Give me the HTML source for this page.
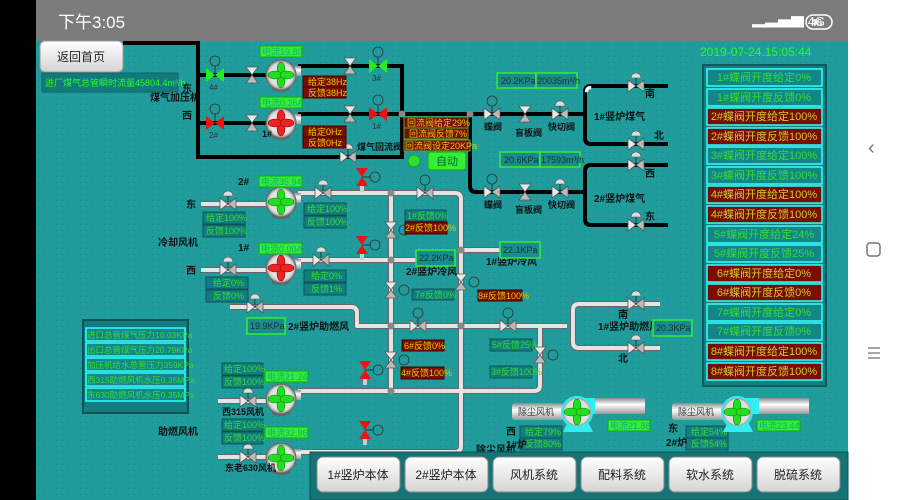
<!DOCTYPE html>
<html><head><meta charset="utf-8"><style>
html,body{margin:0;padding:0;width:900px;height:500px;overflow:hidden;background:#000}
svg{display:block}
text{font-family:"Liberation Sans","Noto Sans CJK SC",sans-serif}
</style></head><body>
<svg width="900" height="500" viewBox="0 0 900 500" xmlns="http://www.w3.org/2000/svg">
<defs>
<pattern id="dots" width="6" height="6" patternUnits="userSpaceOnUse"><rect width="6" height="6" fill="#209c9d"/><rect x="2" y="2" width="1" height="1" fill="#17888a"/></pattern>
<linearGradient id="btn" x1="0" y1="0" x2="0" y2="1"><stop offset="0" stop-color="#fff"/><stop offset="1" stop-color="#d4d4d4"/></linearGradient>
<linearGradient id="pipeW" x1="0" y1="0" x2="0" y2="1"><stop offset="0" stop-color="#888"/><stop offset=".4" stop-color="#fff"/><stop offset="1" stop-color="#999"/></linearGradient>
<radialGradient id="fanB"><stop offset="0" stop-color="#fff"/><stop offset=".8" stop-color="#ddd"/><stop offset="1" stop-color="#777"/></radialGradient>
<g id="vh"><polygon points="-8,-6 0,0 -8,6" fill="#e8e8e8" stroke="#555" stroke-width=".8"/><polygon points="8,-6 0,0 8,6" fill="#bbb" stroke="#555" stroke-width=".8"/></g>
<g id="vv"><polygon points="-6,-8 0,0 6,-8" fill="#e8e8e8" stroke="#555" stroke-width=".8"/><polygon points="-6,8 0,0 6,8" fill="#bbb" stroke="#555" stroke-width=".8"/></g>
<g id="vhm"><use href="#vh"/><line x1="0" y1="0" x2="0" y2="-8" stroke="#333"/><path d="M-5,-8 A5,5 0 0 1 5,-8 Z" fill="#ddd" stroke="#555" stroke-width=".6"/></g>
<g id="vhM"><use href="#vh"/><line x1="0" y1="0" x2="0" y2="-8" stroke="#333"/><circle cx="0" cy="-13" r="5" fill="none" stroke="#333" stroke-width=".8"/></g>
<g id="bg"><polygon points="-9,-7 0,0 -9,7" fill="#2e2"/><polygon points="9,-7 0,0 9,7" fill="#2e2"/><line x1="0" y1="0" x2="0" y2="-9" stroke="#333"/><circle cx="0" cy="-14" r="5" fill="none" stroke="#333" stroke-width=".8"/></g>
<g id="br"><polygon points="-9,-7 0,0 -9,7" fill="#e11"/><polygon points="9,-7 0,0 9,7" fill="#e11"/><line x1="0" y1="0" x2="0" y2="-9" stroke="#333"/><circle cx="0" cy="-14" r="5" fill="none" stroke="#333" stroke-width=".8"/></g>
<g id="rv"><polygon points="-6,-9 0,0 6,-9" fill="#e11"/><polygon points="-6,9 0,0 6,9" fill="#e11"/><line x1="0" y1="0" x2="9" y2="0" stroke="#333"/><circle cx="13" cy="0" r="5" fill="none" stroke="#333" stroke-width=".8"/><rect x="-2" y="9" width="4" height="6" fill="#ccc"/></g>
<g id="fanG"><rect x="0" y="-9" width="20" height="10" fill="url(#pipeW)"/><ellipse cx="0" cy="14" rx="9" ry="3" fill="#666"/><circle r="15" fill="url(#fanB)" stroke="#666"/><g fill="#2d2" stroke="#070" stroke-width=".5"><ellipse cx="0" cy="-6" rx="4" ry="7"/><ellipse cx="0" cy="6" rx="4" ry="7"/><ellipse cx="-6" cy="0" rx="7" ry="4"/><ellipse cx="6" cy="0" rx="7" ry="4"/></g></g>
<g id="fanR"><rect x="0" y="-9" width="20" height="10" fill="url(#pipeW)"/><ellipse cx="0" cy="14" rx="9" ry="3" fill="#666"/><circle r="15" fill="url(#fanB)" stroke="#666"/><g fill="#e22" stroke="#700" stroke-width=".5"><ellipse cx="0" cy="-6" rx="4" ry="7"/><ellipse cx="0" cy="6" rx="4" ry="7"/><ellipse cx="-6" cy="0" rx="7" ry="4"/><ellipse cx="6" cy="0" rx="7" ry="4"/></g></g>
<g id="node"><circle r="3.5" fill="#888"/></g>
</defs>

<!-- frame -->
<rect width="900" height="500" fill="#000"/>
<rect x="36" y="0" width="812" height="41" fill="#7b7b7b"/>
<text x="58" y="28" font-size="17" fill="#fff">下午3:05</text>
<text x="752" y="26" font-size="13" fill="#fff">▂▃▅▇ 4G</text>
<rect x="806" y="15" width="26" height="14" rx="7" fill="none" stroke="#fff" stroke-width="1.5"/>
<text x="811" y="26" font-size="10" fill="#fff" font-weight="bold">46</text>
<rect x="848" y="0" width="52" height="500" fill="#fff"/>
<text x="868" y="154" font-size="20" fill="#777">‹</text>
<rect x="867" y="243" width="13" height="13" rx="3" fill="none" stroke="#777" stroke-width="1.5"/>
<g stroke="#777" stroke-width="1.3"><line x1="868" y1="348" x2="880" y2="348"/><line x1="868" y1="353" x2="880" y2="353"/><line x1="868" y1="358" x2="880" y2="358"/></g>
<rect x="36" y="41" width="812" height="459" fill="url(#dots)"/>

<!-- top button and flow -->
<rect x="40" y="41" width="83" height="31" rx="5" fill="url(#btn)" stroke="#999"/>
<text x="81" y="61" font-size="12" fill="#222" text-anchor="middle">返回首页</text>
<rect x="42" y="73" width="136" height="19" fill="#127a7c" stroke="#0d6466"/>
<text x="45" y="86" font-size="9" fill="#2f2">进厂煤气总管瞬时流量45804.4m³/h</text>

<!-- black gas pipes -->
<g stroke="#000" stroke-width="4" fill="none">
<path d="M123,43 H198 V157 H402 V64"/>
<path d="M198,75 H270"/><path d="M198,123 H270"/>
<path d="M298,66 H402"/><path d="M298,114 H402"/>
<path d="M402,114 H470 V186 Q470,192 476,192 H585"/>
<path d="M470,114 H585"/>
<path d="M668,86 H591 Q585,86 585,92 V138 Q585,144 591,144 H668"/>
<path d="M668,165 H591 Q585,165 585,171 V219 Q585,225 591,225 H668"/>
</g>
<g fill="#fff" stroke="#ccc" stroke-width=".5"><path d="M585,92 Q585,86 591,86 L591,89 Q588,89 588,92Z"/></g>
<use href="#node" x="402" y="114"/>
<use href="#node" x="470" y="114"/>

<use href="#bg" x="215" y="75"/><text x="209" y="90" font-size="8" fill="#333">4#</text>
<use href="#vv" x="252" y="75" transform="rotate(0)"/>
<use href="#fanG" x="281" y="75"/><text x="262" y="103" font-size="9" fill="#111" font-weight="bold">2#</text>
<use href="#vv" x="350" y="66"/>
<use href="#bg" x="378" y="66"/><text x="372" y="81" font-size="8" fill="#333">3#</text>
<use href="#br" x="215" y="123"/><text x="209" y="138" font-size="8" fill="#333">2#</text>
<use href="#vv" x="252" y="123"/>
<use href="#fanR" x="281" y="123"/><text x="262" y="137" font-size="9" fill="#111" font-weight="bold">1#</text>
<use href="#vv" x="350" y="114"/>
<use href="#br" x="378" y="114"/><text x="372" y="129" font-size="8" fill="#333">1#</text>
<use href="#vhm" x="348" y="157"/>

<text x="182" y="92" font-size="10" fill="#111" font-weight="bold">东</text>
<text x="150" y="101" font-size="10" fill="#111" font-weight="bold">煤气加压机</text>
<text x="182" y="119" font-size="10" fill="#111" font-weight="bold">西</text>
<text x="357" y="150" font-size="9" fill="#111" font-weight="bold">煤气回流阀</text>

<g font-size="9">
<rect x="260" y="46" width="42" height="11" fill="#3e3" stroke="#1a1"/><text x="262" y="55" fill="#5c5" fill-opacity=".9"><tspan fill="#1a8">电流19.89A</tspan></text>
<rect x="260" y="97" width="42" height="11" fill="#3e3" stroke="#1a1"/><text x="262" y="106" fill="#1a8">电流0.26A</text>
<rect x="303" y="76" width="43" height="11" fill="#7a0c00" stroke="#400"/><text x="308" y="85" fill="#dc0">给定38Hz</text>
<rect x="303" y="87" width="43" height="11" fill="#7a0c00" stroke="#400"/><text x="308" y="96" fill="#dc0">反馈38Hz</text>
<rect x="303" y="126" width="43" height="11" fill="#7a0c00" stroke="#400"/><text x="308" y="135" fill="#dc0">给定0Hz</text>
<rect x="303" y="137" width="43" height="11" fill="#7a0c00" stroke="#400"/><text x="308" y="146" fill="#dc0">反馈0Hz</text>
<rect x="404" y="117" width="64" height="11" fill="#7a0c00" stroke="#4a4"/><text x="407" y="126" fill="#dc0">回流阀给定29%</text>
<rect x="404" y="128" width="64" height="11" fill="#7a0c00" stroke="#4a4"/><text x="409" y="137" fill="#dc0">回流阀反馈7%</text>
<rect x="404" y="140" width="66" height="11" fill="#7a0c00" stroke="#4a4"/><text x="405" y="149" fill="#dc0">回流阀设定20KPa</text>
</g>
<circle cx="414" cy="161" r="6" fill="#3d3" stroke="#1a1"/>
<rect x="428" y="152" width="38" height="18" rx="3" fill="#3e3" stroke="#1a1"/>
<text x="447" y="165" font-size="11" fill="#063" text-anchor="middle">自动</text>

<!-- right gas -->
<g font-size="9">
<rect x="497" y="73" width="39" height="15" fill="#1a8c8e" stroke="#3e3" stroke-width="1.5"/><text x="501" y="84" fill="#133">20.2KPa</text>
<rect x="536" y="73" width="41" height="15" fill="#1a8c8e" stroke="#3e3" stroke-width="1.5"/><text x="537" y="84" fill="#133">20035m³/h</text>
<rect x="500" y="152" width="40" height="15" fill="#1a8c8e" stroke="#3e3" stroke-width="1.5"/><text x="504" y="163" fill="#133">20.6KPa</text>
<rect x="540" y="152" width="40" height="15" fill="#1a8c8e" stroke="#3e3" stroke-width="1.5"/><text x="541" y="163" fill="#133">17593m³/h</text>
</g>
<use href="#vhM" x="492" y="114"/><use href="#vv" x="525" y="114"/><use href="#vhm" x="560" y="114"/>
<use href="#vhM" x="492" y="192"/><use href="#vv" x="525" y="192"/><use href="#vhm" x="560" y="192"/>
<use href="#vhm" x="636" y="86"/><use href="#vhm" x="636" y="144"/>
<use href="#vhm" x="636" y="165"/><use href="#vhm" x="636" y="225"/>
<g font-size="9" fill="#111" font-weight="bold">
<text x="484" y="130">蝶阀</text><text x="515" y="136">盲板阀</text><text x="548" y="130">快切阀</text>
<text x="484" y="208">蝶阀</text><text x="515" y="213">盲板阀</text><text x="548" y="208">快切阀</text>
<text x="594" y="120" font-size="10">1#竖炉煤气</text><text x="594" y="202" font-size="10">2#竖炉煤气</text>
<text x="645" y="97" font-size="10">南</text><text x="654" y="139" font-size="10">北</text>
<text x="645" y="177" font-size="10">西</text><text x="645" y="220" font-size="10">东</text>
</g>

<text x="700" y="56" font-size="12" fill="#2f2">2019-07-24.15:05:44</text>

<!-- right panel -->
<rect x="703" y="65" width="123" height="321" fill="#177e80" stroke="#0b5c5e" stroke-width="2"/>
<g font-size="11" text-anchor="middle">
<rect x="707" y="69" width="115" height="17" fill="#148688" stroke="#3ff" stroke-width="1.5"/><text x="764" y="81" fill="#3d3">1#蝶阀开度给定0%</text>
<rect x="707" y="89" width="115" height="17" fill="#148688" stroke="#3ff" stroke-width="1.5"/><text x="764" y="101" fill="#3d3">1#蝶阀开度反馈0%</text>
<rect x="707" y="108" width="115" height="17" fill="#7a0c00" stroke="#3ff" stroke-width="1.5"/><text x="764" y="120" fill="#cc3">2#蝶阀开度给定100%</text>
<rect x="707" y="128" width="115" height="17" fill="#7a0c00" stroke="#3ff" stroke-width="1.5"/><text x="764" y="140" fill="#cc3">2#蝶阀开度反馈100%</text>
<rect x="707" y="147" width="115" height="17" fill="#148688" stroke="#3ff" stroke-width="1.5"/><text x="764" y="159" fill="#3d3">3#蝶阀开度给定100%</text>
<rect x="707" y="167" width="115" height="17" fill="#148688" stroke="#3ff" stroke-width="1.5"/><text x="764" y="179" fill="#3d3">3#蝶阀开度反馈100%</text>
<rect x="707" y="186" width="115" height="17" fill="#7a0c00" stroke="#3ff" stroke-width="1.5"/><text x="764" y="198" fill="#cc3">4#蝶阀开度给定100%</text>
<rect x="707" y="206" width="115" height="17" fill="#7a0c00" stroke="#3ff" stroke-width="1.5"/><text x="764" y="218" fill="#cc3">4#蝶阀开度反馈100%</text>
<rect x="707" y="226" width="115" height="17" fill="#148688" stroke="#3ff" stroke-width="1.5"/><text x="764" y="238" fill="#3d3">5#蝶阀开度给定24%</text>
<rect x="707" y="245" width="115" height="17" fill="#148688" stroke="#3ff" stroke-width="1.5"/><text x="764" y="257" fill="#3d3">5#蝶阀开度反馈25%</text>
<rect x="707" y="265" width="115" height="17" fill="#7a0c00" stroke="#3ff" stroke-width="1.5"/><text x="764" y="277" fill="#cc3">6#蝶阀开度给定0%</text>
<rect x="707" y="284" width="115" height="17" fill="#7a0c00" stroke="#3ff" stroke-width="1.5"/><text x="764" y="296" fill="#cc3">6#蝶阀开度反馈0%</text>
<rect x="707" y="304" width="115" height="17" fill="#148688" stroke="#3ff" stroke-width="1.5"/><text x="764" y="316" fill="#3d3">7#蝶阀开度给定0%</text>
<rect x="707" y="323" width="115" height="17" fill="#148688" stroke="#3ff" stroke-width="1.5"/><text x="764" y="335" fill="#3d3">7#蝶阀开度反馈0%</text>
<rect x="707" y="343" width="115" height="17" fill="#7a0c00" stroke="#3ff" stroke-width="1.5"/><text x="764" y="355" fill="#cc3">8#蝶阀开度给定100%</text>
<rect x="707" y="363" width="115" height="17" fill="#7a0c00" stroke="#3ff" stroke-width="1.5"/><text x="764" y="375" fill="#cc3">8#蝶阀开度反馈100%</text>
</g>

<!-- grey air pipes -->
<g stroke="#666" stroke-width="6" fill="none" stroke-linejoin="round"><path d="M201,204 H270 M201,270 H270 M298,193 H455 Q461,193 461,199 V446 Q461,452 455,452 H298 M298,260 H416 M461,250 H500 M391,193 V391 M230,307 H351 Q357,307 357,313 V326 H567 M660,304 H579 Q573,304 573,310 V342 Q573,348 579,348 H660 M298,391 H534 Q540,391 540,385 V326 M218,401 H268 M218,457 H268"/></g>
<g stroke="#e4e4e4" stroke-width="4" fill="none" stroke-linejoin="round"><path d="M201,204 H270 M201,270 H270 M298,193 H455 Q461,193 461,199 V446 Q461,452 455,452 H298 M298,260 H416 M461,250 H500 M391,193 V391 M230,307 H351 Q357,307 357,313 V326 H567 M660,304 H579 Q573,304 573,310 V342 Q573,348 579,348 H660 M298,391 H534 Q540,391 540,385 V326 M218,401 H268 M218,457 H268"/></g>
<g><use href="#node" x="391" y="193"/><use href="#node" x="391" y="260"/><use href="#node" x="391" y="326"/><use href="#node" x="391" y="391"/><use href="#node" x="461" y="250"/><use href="#node" x="461" y="326"/></g>
<use href="#vhm" x="228" y="204"/><use href="#vhm" x="228" y="270"/>
<use href="#vhm" x="323" y="193"/><use href="#vhm" x="321" y="260"/>
<use href="#vhM" x="425" y="193"/>
<use href="#vhm" x="255" y="307"/>
<use href="#vhM" x="418" y="326"/><use href="#vhM" x="508" y="326"/>
<use href="#vhm" x="636" y="304"/><use href="#vhm" x="636" y="348"/>
<use href="#vhm" x="248" y="401"/><use href="#vhm" x="248" y="457"/>
<use href="#vv" x="391" y="230"/><use href="#vv" x="391" y="290"/><use href="#vv" x="391" y="360"/><use href="#vv" x="461" y="282"/><use href="#vv" x="540" y="355"/>
<g fill="none" stroke="#333" stroke-width=".8"><circle cx="404" cy="230" r="5"/><circle cx="404" cy="290" r="5"/><circle cx="404" cy="360" r="5"/><circle cx="474" cy="282" r="5"/><circle cx="553" cy="355" r="5"/></g>
<use href="#rv" x="362" y="177"/><use href="#rv" x="362" y="245"/><use href="#rv" x="365" y="370"/><use href="#rv" x="365" y="430"/>

<use href="#fanG" x="281" y="202"/><use href="#fanR" x="281" y="268"/>
<use href="#fanG" x="281" y="399"/><use href="#fanG" x="281" y="458"/>

<g font-size="10" fill="#111" font-weight="bold">
<text x="238" y="185">2#</text><text x="238" y="251">1#</text>
<text x="186" y="208">东</text><text x="186" y="274">西</text>
<text x="158" y="246">冷却风机</text><text x="158" y="435">助燃风机</text>
<text x="222" y="415" font-size="9">西315风机</text><text x="225" y="471" font-size="9">东老630风机</text>
<text x="288" y="330">2#竖炉助燃风</text><text x="406" y="275">2#竖炉冷风</text><text x="486" y="265">1#竖炉冷风</text>
<text x="598" y="330">1#竖炉助燃风</text><text x="618" y="318">南</text><text x="618" y="362">北</text>
</g>

<g font-size="9">
<rect x="259" y="176" width="43" height="11" fill="#3e3" stroke="#1a1"/><text x="261" y="185" fill="#1a8">电流35.94A</text>
<rect x="259" y="243" width="43" height="11" fill="#3e3" stroke="#1a1"/><text x="261" y="252" fill="#1a8">电流0.00A</text>
<rect x="265" y="371" width="43" height="11" fill="#3e3" stroke="#1a1"/><text x="267" y="380" fill="#1a8">电流21.24A</text>
<rect x="265" y="427" width="43" height="11" fill="#3e3" stroke="#1a1"/><text x="267" y="436" fill="#1a8">电流32.96A</text>
<g fill="#137c7e" stroke="#0b5456">
<rect x="203" y="212" width="42" height="12"/><rect x="203" y="225" width="42" height="12"/>
<rect x="304" y="203" width="42" height="12"/><rect x="304" y="216" width="42" height="12"/>
<rect x="206" y="277" width="42" height="12"/><rect x="206" y="290" width="42" height="12"/>
<rect x="304" y="270" width="42" height="12"/><rect x="304" y="283" width="42" height="12"/>
<rect x="222" y="363" width="41" height="12"/><rect x="222" y="376" width="41" height="12"/>
<rect x="222" y="419" width="41" height="12"/><rect x="222" y="432" width="41" height="12"/>
<rect x="405" y="210" width="41" height="11"/><rect x="412" y="289" width="42" height="11"/>
<rect x="490" y="339" width="42" height="12"/><rect x="490" y="366" width="42" height="12"/>
<rect x="520" y="426" width="42" height="12"/><rect x="520" y="438" width="42" height="12"/>
<rect x="686" y="426" width="42" height="12"/><rect x="686" y="438" width="42" height="12"/>
</g>
<g fill="#3d3">
<text x="206" y="221">给定100%</text><text x="206" y="234">反馈100%</text>
<text x="307" y="212">给定100%</text><text x="307" y="225">反馈100%</text>
<text x="213" y="286">给定0%</text><text x="213" y="299">反馈0%</text>
<text x="311" y="279">给定0%</text><text x="311" y="292">反馈1%</text>
<text x="224" y="372">给定100%</text><text x="224" y="385">反馈100%</text>
<text x="224" y="428">给定100%</text><text x="224" y="441">反馈100%</text>
<text x="407" y="219">1#反馈0%</text><text x="415" y="298">7#反馈0%</text>
<text x="492" y="348">5#反馈25%</text><text x="491" y="375">3#反馈100%</text>
<text x="525" y="435">给定79%</text><text x="525" y="447">反馈80%</text>
<text x="691" y="435">给定54%</text><text x="691" y="447">反馈54%</text>
</g>
<g fill="#7a0c00" stroke="#400">
<rect x="405" y="222" width="42" height="12"/><rect x="478" y="290" width="44" height="11"/>
<rect x="402" y="340" width="42" height="11"/><rect x="401" y="367" width="43" height="12"/>
</g>
<g fill="#dc0">
<text x="405" y="231">2#反馈100%</text><text x="478" y="299">8#反馈100%</text>
<text x="404" y="349">6#反馈0%</text><text x="401" y="376">4#反馈100%</text>
</g>
<g fill="#1a8c8e" stroke="#3e3" stroke-width="1.5">
<rect x="416" y="250" width="39" height="16"/><rect x="500" y="242" width="40" height="16"/>
<rect x="247" y="318" width="38" height="16"/><rect x="653" y="320" width="39" height="16"/>
</g>
<g fill="#133"><text x="419" y="261">22.2KPa</text><text x="503" y="253">22.1KPa</text><text x="250" y="329">19.9KPa</text><text x="656" y="331">20.3KPa</text></g>
</g>

<!-- left info -->
<rect x="83" y="320" width="105" height="93" fill="#137c7e" stroke="#0b5456" stroke-width="2"/>
<g fill="#148688" stroke="#3ff" stroke-width="1.5"><rect x="86" y="328" width="99" height="13"/><rect x="86" y="343" width="99" height="13"/><rect x="86" y="358" width="99" height="13"/><rect x="86" y="373" width="99" height="13"/><rect x="86" y="388" width="99" height="13"/></g>
<g font-size="8.5" fill="#3d3"><text x="87" y="338">进口总管煤气压力10.03KPa</text><text x="87" y="353">出口总管煤气压力20.79KPa</text><text x="87" y="368">加压机给水总管压力359KPa</text><text x="87" y="383">西315助燃风机水压0.35MPa</text><text x="87" y="398">东630助燃风机水压0.35MPa</text></g>

<!-- dust fans -->
<g>
<rect x="512" y="403" width="52" height="17" rx="3" fill="url(#pipeW)"/><text x="518" y="415" font-size="9" fill="#333">除尘风机</text>
<rect x="593" y="398" width="52" height="16" fill="url(#pipeW)"/><rect x="583" y="398" width="12" height="16" fill="#3ee"/>
<polygon points="568,422 588,422 593,432 563,432" fill="#3ee"/>
<circle cx="577" cy="412" r="15" fill="url(#fanB)" stroke="#3ee" stroke-width="2"/>
<g fill="#2d2" stroke="#070" stroke-width=".5"><ellipse cx="577" cy="406" rx="4" ry="7"/><ellipse cx="577" cy="418" rx="4" ry="7"/><ellipse cx="571" cy="412" rx="7" ry="4"/><ellipse cx="583" cy="412" rx="7" ry="4"/></g>
<rect x="608" y="420" width="42" height="11" fill="#3e3" stroke="#1a1"/><text x="610" y="429" font-size="9" fill="#1a8">电流21.88A</text>
<rect x="672" y="403" width="52" height="17" rx="3" fill="url(#pipeW)"/><text x="678" y="415" font-size="9" fill="#333">除尘风机</text>
<rect x="757" y="398" width="52" height="16" fill="url(#pipeW)"/><rect x="745" y="398" width="14" height="16" fill="#3ee"/>
<polygon points="728,422 748,422 753,432 723,432" fill="#3ee"/>
<circle cx="737" cy="412" r="15" fill="url(#fanB)" stroke="#3ee" stroke-width="2"/>
<g fill="#2d2" stroke="#070" stroke-width=".5"><ellipse cx="737" cy="406" rx="4" ry="7"/><ellipse cx="737" cy="418" rx="4" ry="7"/><ellipse cx="731" cy="412" rx="7" ry="4"/><ellipse cx="743" cy="412" rx="7" ry="4"/></g>
<rect x="757" y="420" width="43" height="11" fill="#3e3" stroke="#1a1"/><text x="759" y="429" font-size="9" fill="#1a8">电流23.44A</text>
<g font-size="10" fill="#111" font-weight="bold"><text x="506" y="435">西</text><text x="506" y="448">1#炉</text><text x="668" y="432">东</text><text x="666" y="446">2#炉</text><text x="476" y="453">除尘风机</text></g>
</g>

<!-- bottom nav -->
<rect x="310" y="452" width="538" height="48" fill="#147476" stroke="#0c5456"/>
<g fill="url(#btn)" stroke="#888">
<rect x="317" y="457" width="83" height="35" rx="6"/><rect x="405" y="457" width="83" height="35" rx="6"/><rect x="493" y="457" width="83" height="35" rx="6"/><rect x="581" y="457" width="83" height="35" rx="6"/><rect x="669" y="457" width="83" height="35" rx="6"/><rect x="757" y="457" width="83" height="35" rx="6"/>
</g>
<g font-size="12" fill="#222" text-anchor="middle">
<text x="358" y="479">1#竖炉本体</text><text x="446" y="479">2#竖炉本体</text><text x="534" y="479">风机系统</text><text x="622" y="479">配料系统</text><text x="710" y="479">软水系统</text><text x="798" y="479">脱硫系统</text>
</g>
</svg>
</body></html>
